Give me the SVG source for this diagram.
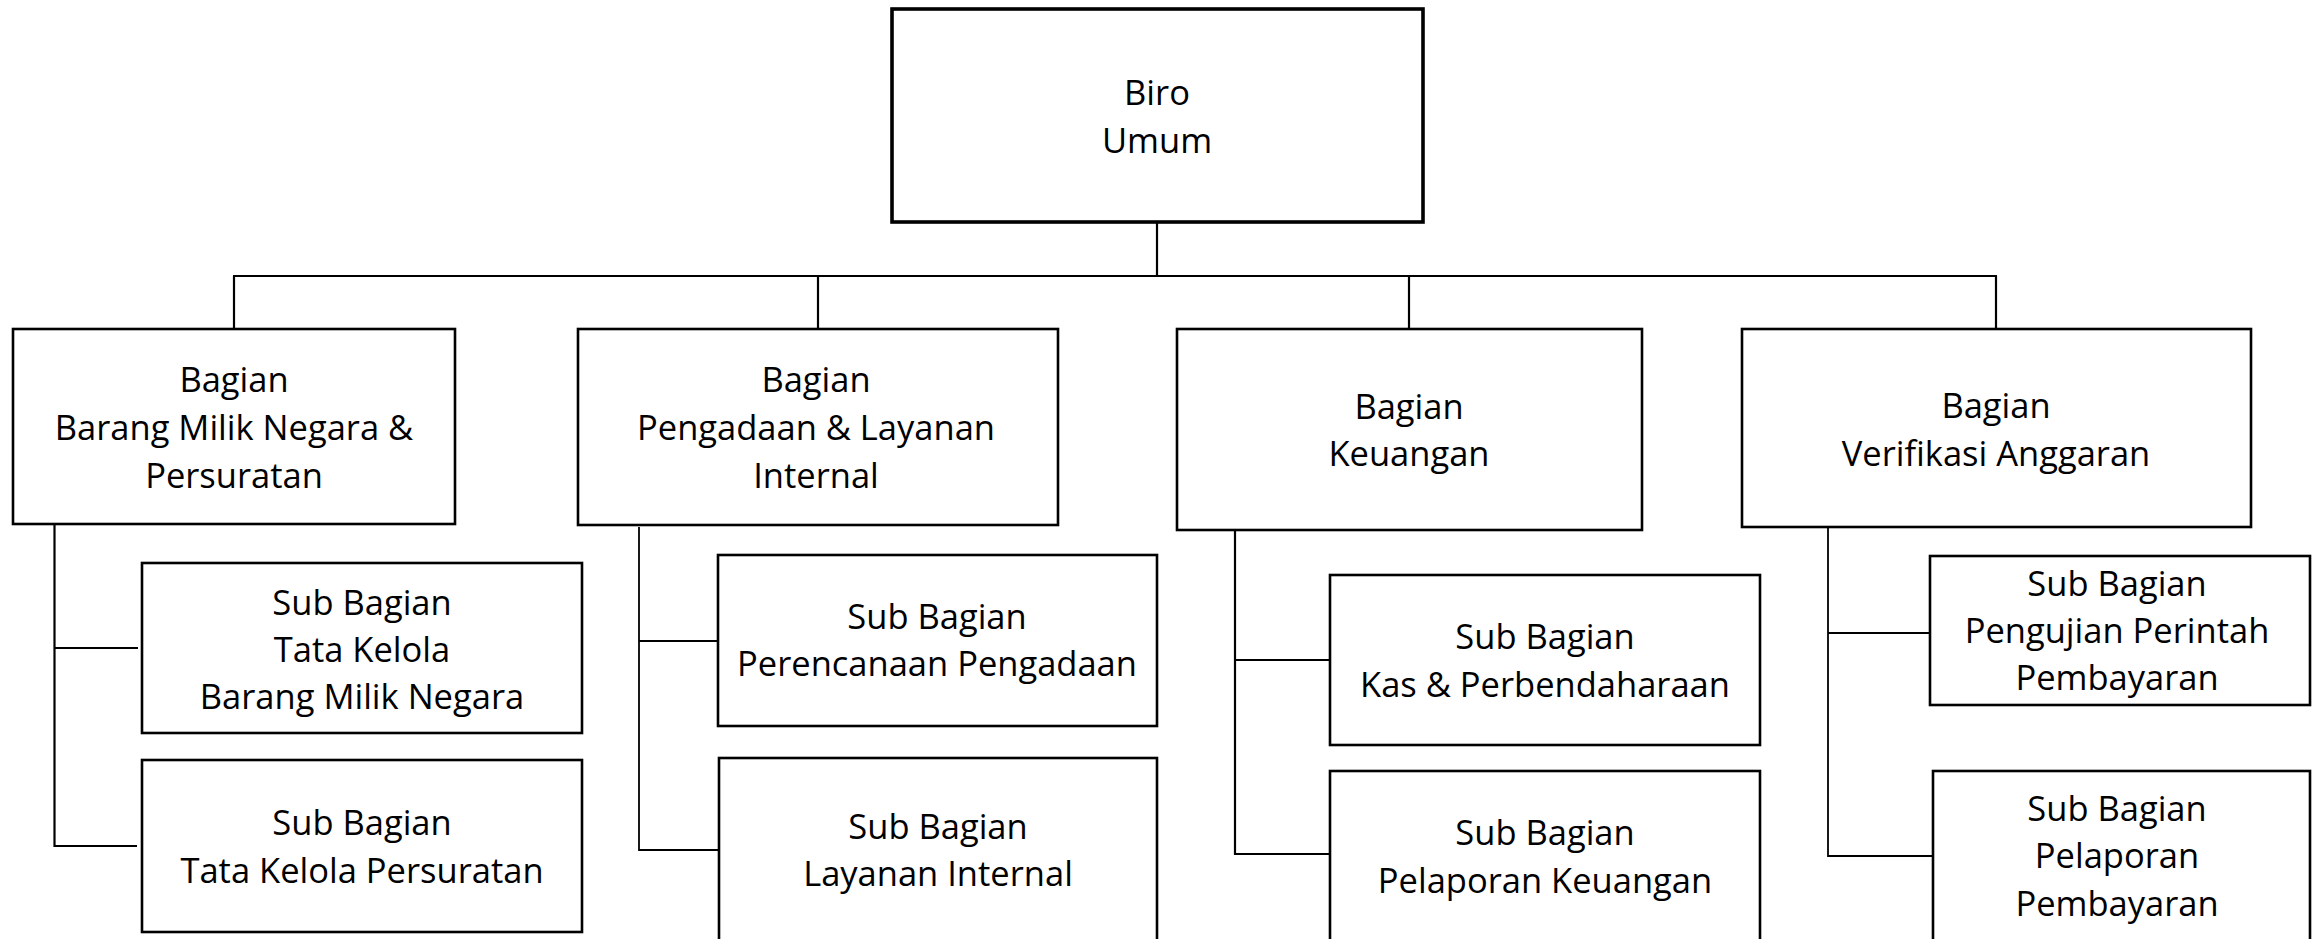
<svg xmlns="http://www.w3.org/2000/svg" width="2323" height="939" viewBox="0 0 2323 939">
<style>
  .box { fill: #ffffff; stroke: #000000; stroke-width: 2.6; }
  .top { fill: #ffffff; stroke: #000000; stroke-width: 3.6; }
  .lbl { font-family: "Open Sans", "Noto Sans", sans-serif; font-size: 34.5px; fill: #000000; text-anchor: middle; }
  .conn line { stroke: #000000; stroke-width: 2.2; fill: none; }
  .conn line.thin { stroke-width: 1.8; }
</style>
<rect x="0" y="0" width="2323" height="939" fill="#ffffff"/>

<g id="connectors" class="conn">
  <line x1="1157" y1="222" x2="1157" y2="277"/>
  <line x1="233" y1="276" x2="1997" y2="276"/>
  <line x1="234" y1="276" x2="234" y2="329"/>
  <line x1="818" y1="276" x2="818" y2="329"/>
  <line x1="1409" y1="276" x2="1409" y2="329"/>
  <line x1="1996" y1="276" x2="1996" y2="329"/>
  <line x1="54.5" y1="521" x2="54.5" y2="847"/>
  <line class="thin" x1="54" y1="648" x2="138" y2="648"/>
  <line class="thin" x1="54" y1="846" x2="137" y2="846"/>
  <line class="thin" x1="639" y1="527" x2="639" y2="851"/>
  <line class="thin" x1="639" y1="641" x2="718" y2="641"/>
  <line class="thin" x1="639" y1="850" x2="719" y2="850"/>
  <line x1="1235" y1="530" x2="1235" y2="855"/>
  <line class="thin" x1="1235" y1="660" x2="1330" y2="660"/>
  <line class="thin" x1="1235" y1="854" x2="1330" y2="854"/>
  <line class="thin" x1="1828" y1="527" x2="1828" y2="857"/>
  <line class="thin" x1="1828" y1="633" x2="1930" y2="633"/>
  <line class="thin" x1="1828" y1="856" x2="1933" y2="856"/>
</g>

<g id="biro-umum">
  <rect class="top" x="892" y="9" width="531" height="213"/>
  <text class="lbl" x="1157" y="105">Biro</text>
  <text class="lbl" x="1157" y="153">Umum</text>
</g>

<g id="bagian-bmn">
  <rect class="box" x="13" y="329" width="442" height="195"/>
  <text class="lbl" x="234" y="392">Bagian</text>
  <text class="lbl" x="234" y="440">Barang Milik Negara &amp;</text>
  <text class="lbl" x="234" y="488">Persuratan</text>
</g>

<g id="bagian-pengadaan">
  <rect class="box" x="578" y="329" width="480" height="196"/>
  <text class="lbl" x="816" y="392">Bagian</text>
  <text class="lbl" x="816" y="440">Pengadaan &amp; Layanan</text>
  <text class="lbl" x="816" y="488">Internal</text>
</g>

<g id="bagian-keuangan">
  <rect class="box" x="1177" y="329" width="465" height="201"/>
  <text class="lbl" x="1409" y="419">Bagian</text>
  <text class="lbl" x="1409" y="466">Keuangan</text>
</g>

<g id="bagian-verifikasi">
  <rect class="box" x="1742" y="329" width="509" height="198"/>
  <text class="lbl" x="1996" y="418">Bagian</text>
  <text class="lbl" x="1996" y="466">Verifikasi Anggaran</text>
</g>

<g id="sub-tk-bmn">
  <rect class="box" x="142" y="563" width="440" height="170"/>
  <text class="lbl" x="362" y="615">Sub Bagian</text>
  <text class="lbl" x="362" y="662">Tata Kelola</text>
  <text class="lbl" x="362" y="709">Barang Milik Negara</text>
</g>

<g id="sub-tk-persuratan">
  <rect class="box" x="142" y="760" width="440" height="172"/>
  <text class="lbl" x="362" y="835">Sub Bagian</text>
  <text class="lbl" x="362" y="883">Tata Kelola Persuratan</text>
</g>

<g id="sub-perencanaan">
  <rect class="box" x="718" y="555" width="439" height="171"/>
  <text class="lbl" x="937" y="629">Sub Bagian</text>
  <text class="lbl" x="937" y="676">Perencanaan Pengadaan</text>
</g>

<g id="sub-layanan">
  <rect class="box" x="719" y="758" width="438" height="200"/>
  <text class="lbl" x="938" y="839">Sub Bagian</text>
  <text class="lbl" x="938" y="886">Layanan Internal</text>
</g>

<g id="sub-kas">
  <rect class="box" x="1330" y="575" width="430" height="170"/>
  <text class="lbl" x="1545" y="649">Sub Bagian</text>
  <text class="lbl" x="1545" y="697">Kas &amp; Perbendaharaan</text>
</g>

<g id="sub-pelaporan-keuangan">
  <rect class="box" x="1330" y="771" width="430" height="200"/>
  <text class="lbl" x="1545" y="845">Sub Bagian</text>
  <text class="lbl" x="1545" y="893">Pelaporan Keuangan</text>
</g>

<g id="sub-pengujian">
  <rect class="box" x="1930" y="556" width="380" height="149"/>
  <text class="lbl" x="2117" y="596">Sub Bagian</text>
  <text class="lbl" x="2117" y="643">Pengujian Perintah</text>
  <text class="lbl" x="2117" y="690">Pembayaran</text>
</g>

<g id="sub-pelaporan-pembayaran">
  <rect class="box" x="1933" y="771" width="377" height="200"/>
  <text class="lbl" x="2117" y="821">Sub Bagian</text>
  <text class="lbl" x="2117" y="868">Pelaporan</text>
  <text class="lbl" x="2117" y="916">Pembayaran</text>
</g>
</svg>
